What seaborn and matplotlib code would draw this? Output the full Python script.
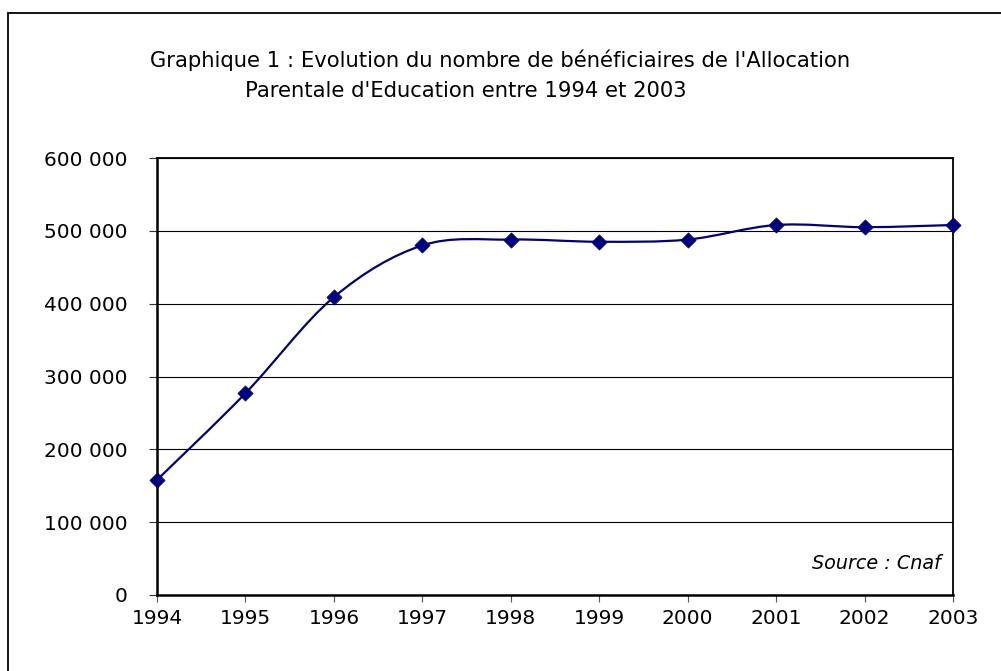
import matplotlib
matplotlib.use("Agg")
import matplotlib.pyplot as plt
import matplotlib.ticker as mticker
from matplotlib.path import Path
from matplotlib.patches import PathPatch, Rectangle
import numpy as np
import pandas as pd
import seaborn as sns

# data
years = [1994, 1995, 1996, 1997, 1998, 1999, 2000, 2001, 2002, 2003]
beneficiaires = [158000, 277000, 409000, 480000, 488000, 485000, 488000, 508000, 505000, 508000]
y_ticks = [0, 100000, 200000, 300000, 400000, 500000, 600000]

title_line1 = "Graphique 1 : Evolution du nombre de bénéficiaires de l'Allocation"
title_line2 = "Parentale d'Education entre 1994 et 2003"
source_text = "Source : Cnaf"

line_color = "#000080"

df = pd.DataFrame({"annee": years, "beneficiaires": beneficiaires})

sns.set_theme(style="ticks")
plt.rcParams["font.family"] = ["DejaVu Sans"]
plt.rcParams["text.color"] = "black"

fig = plt.figure(figsize=(10.01, 6.71), dpi=100)
fig.patch.set_facecolor("white")
ax = fig.add_axes([157 / 1001, 1 - 595 / 671, (953 - 157) / 1001, (595 - 158) / 671])

# smoothed curve (Catmull-Rom -> cubic Bezier), like the spreadsheet's smoothed line
pts = df[["annee", "beneficiaires"]].to_numpy(dtype=float)
verts = [pts[0]]
codes = [Path.MOVETO]
n = len(pts)
for i in range(n - 1):
    p0 = pts[i - 1] if i > 0 else pts[i]
    p1 = pts[i]
    p2 = pts[i + 1]
    p3 = pts[i + 2] if i + 2 < n else pts[i + 1]
    c1 = p1 + (p2 - p0) / 6
    c2 = p2 - (p3 - p1) / 6
    verts += [c1, c2, p2]
    codes += [Path.CURVE4] * 3
ax.add_patch(PathPatch(Path(verts, codes), facecolor="none", edgecolor=line_color,
                       lw=1.6, zorder=3, clip_on=False))

sns.scatterplot(data=df, x="annee", y="beneficiaires", ax=ax, marker="D", s=60,
                color=line_color, edgecolor=line_color, linewidth=0.5, zorder=4, clip_on=False)

ax.set_xlim(years[0], years[-1])
ax.set_ylim(y_ticks[0], y_ticks[-1])
ax.set_xticks(years)
ax.set_yticks(y_ticks)
ax.yaxis.set_major_formatter(mticker.FuncFormatter(lambda v, p: f"{v:,.0f}".replace(",", " ")))
ax.set_xlabel("")
ax.set_ylabel("")

ax.grid(axis="y", color="black", lw=0.8)
ax.set_axisbelow(True)
for side in ["left", "bottom"]:
    ax.spines[side].set_linewidth(1.8)
for side in ["top", "right"]:
    ax.spines[side].set_linewidth(1.3)
for s in ax.spines.values():
    s.set_color("black")
    s.set_visible(True)

ax.tick_params(axis="y", length=6, width=0.8, color="#333333", pad=15, labelsize=14.5, labelcolor="black")
ax.tick_params(axis="x", length=5, width=0.8, color="#555555", pad=5, labelsize=14.5, labelcolor="black")

ax.text(0.985, 0.071, source_text, transform=ax.transAxes, ha="right", va="center",
        style="italic", fontsize=13.8, color="black")

fig.text(500 / 1001, 1 - 60 / 671, title_line1, ha="center", va="center", fontsize=15.2, color="black")
fig.text(466 / 1001, 1 - 91 / 671, title_line2, ha="center", va="center", fontsize=15.2, color="black")

# outer chart frame (only top and left edges are visible in the crop)
fig.add_artist(Rectangle((8 / 1001, -0.1), 1.2, 1 - 13 / 671 + 0.1, transform=fig.transFigure,
                         fill=False, edgecolor="black", lw=1.3))

fig.savefig("out.png", dpi=100)
